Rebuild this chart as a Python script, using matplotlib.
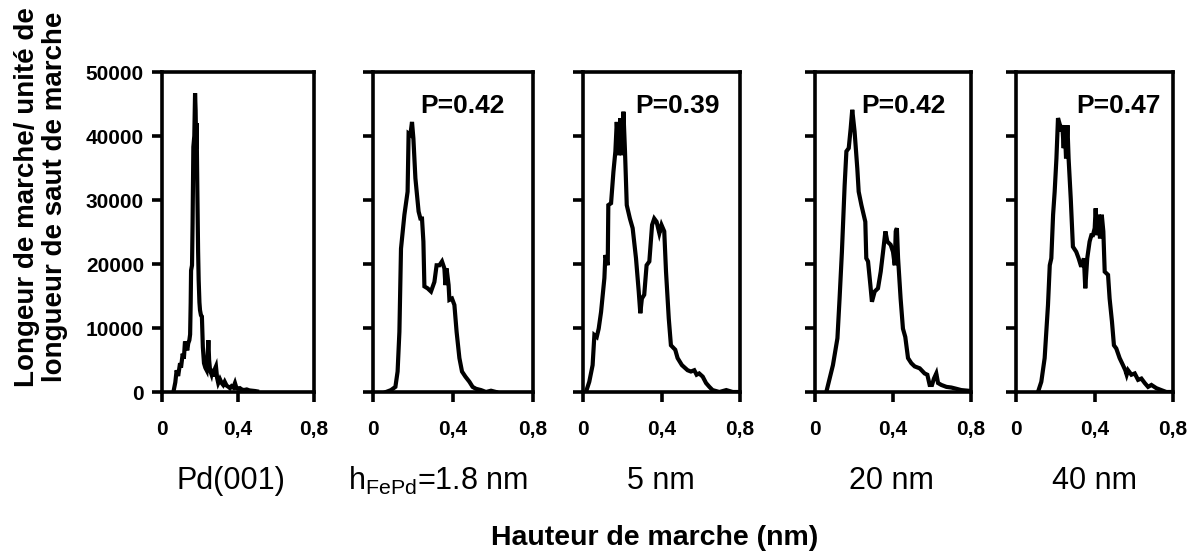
import matplotlib
matplotlib.use("Agg")
import matplotlib.pyplot as plt

plt.rcParams['font.family'] = ['Liberation Sans', 'DejaVu Sans']
plt.rcParams['mathtext.fontset'] = 'custom'
plt.rcParams['mathtext.rm'] = 'Liberation Sans'
plt.rcParams['mathtext.it'] = 'Liberation Sans:italic'

# step height histograms (nm vs length per unit step height)
pd_x = [0.06, 0.07, 0.077, 0.085, 0.095, 0.1, 0.109, 0.115, 0.121, 0.128, 0.133, 0.138, 0.144, 0.148, 0.151,
        0.153, 0.158, 0.161, 0.165, 0.17, 0.174, 0.177, 0.18, 0.182, 0.186, 0.19, 0.193, 0.197, 0.2, 0.205,
        0.21, 0.215, 0.221, 0.228, 0.235, 0.24, 0.244, 0.248, 0.253, 0.26, 0.265, 0.27, 0.277, 0.284, 0.29,
        0.296, 0.305, 0.314, 0.322, 0.33, 0.34, 0.35, 0.358, 0.366, 0.375, 0.384, 0.392, 0.4, 0.41, 0.42,
        0.43, 0.446, 0.46, 0.475, 0.49, 0.5]
pd_y = [0, 1500, 3400, 2500, 4500, 3800, 6000, 5200, 7900, 7000, 6500, 7600, 8100, 9000, 13900,
        19000, 19800, 26300, 38300, 40000, 46700, 44000, 38000, 42000, 31600, 22000, 17500, 14000, 12800, 12000,
        11800, 7000, 4500, 3800, 3400, 5500, 8100, 5000, 3400, 2800, 3600, 2400, 3500, 4000, 2200,
        1400, 2000, 1400, 1100, 1600, 1000, 800, 600, 900, 700, 1400, 600, 500, 600, 400,
        300, 400, 250, 200, 150, 100]

h18_x = [0.065, 0.09, 0.112, 0.123, 0.132, 0.14, 0.157, 0.173, 0.178, 0.187, 0.195, 0.202, 0.212, 0.228,
         0.237, 0.245, 0.252, 0.257, 0.273, 0.29, 0.307, 0.318, 0.332, 0.345, 0.357, 0.362, 0.368, 0.378,
         0.382, 0.395, 0.407, 0.418, 0.432, 0.445, 0.462, 0.482, 0.498, 0.515, 0.54, 0.565, 0.59, 0.615]
h18_y = [0, 300, 800, 3200, 9400, 22400, 27700, 31300, 40400, 40200, 42200, 39600, 33400, 28200,
         27100, 27100, 23500, 16500, 16200, 15700, 17200, 19800, 19800, 20400, 19300, 16700, 19300, 16700,
         14400, 14600, 13600, 9400, 5300, 3200, 2400, 1600, 800, 500, 300, 0, 200, 0]

h5_x = [0.015, 0.032, 0.049, 0.058, 0.07, 0.08, 0.092, 0.109, 0.114, 0.126, 0.129, 0.143, 0.155, 0.165,
        0.172, 0.182, 0.19, 0.197, 0.206, 0.214, 0.223, 0.239, 0.253, 0.27, 0.284, 0.292, 0.3, 0.312,
        0.324, 0.338, 0.352, 0.363, 0.375, 0.389, 0.4, 0.414, 0.423, 0.437, 0.448, 0.47, 0.482, 0.504,
        0.533, 0.55, 0.567, 0.579, 0.592, 0.61, 0.627, 0.644, 0.66, 0.695, 0.73, 0.763, 0.79]
h5_y = [0, 1600, 4200, 8900, 8600, 9900, 12500, 17800, 21400, 19800, 29200, 29500, 34400, 37600,
        42200, 37000, 42800, 37000, 43800, 37600, 29200, 27100, 25600, 20900, 15700, 12300, 14600, 15200,
        19800, 20400, 26100, 27100, 26600, 24800, 26100, 25100, 18800, 11500, 7300, 6600, 5300, 4200,
        3400, 3200, 3400, 2700, 2900, 2400, 1400, 800, 300, 0, 300, 0, 0]

h20_x = [0.058, 0.075, 0.092, 0.115, 0.126, 0.138, 0.152, 0.161, 0.173, 0.183, 0.191, 0.203, 0.217,
         0.224, 0.238, 0.258, 0.263, 0.272, 0.284, 0.292, 0.306, 0.323, 0.337, 0.349, 0.361, 0.371,
         0.388, 0.4, 0.409, 0.414, 0.42, 0.426, 0.439, 0.451, 0.463, 0.477, 0.494, 0.511, 0.537, 0.562,
         0.576, 0.588, 0.6, 0.61, 0.622, 0.631, 0.648, 0.674, 0.699, 0.725, 0.75, 0.785]
h20_y = [0, 2100, 4200, 8400, 14600, 21900, 32300, 37600, 38100, 41200, 44100, 40700, 34900,
         31300, 29200, 26600, 20900, 20400, 16700, 14100, 15700, 16200, 18800, 21900, 25100, 23500,
         23000, 21900, 19800, 25100, 25600, 20900, 14600, 9900, 8600, 5300, 4500, 4000, 3700, 2900,
         2700, 1100, 1100, 2100, 2900, 1400, 1100, 800, 700, 500, 300, 200]

h40_x = [0.112, 0.129, 0.146, 0.163, 0.172, 0.18, 0.189, 0.197, 0.206, 0.214, 0.224, 0.231, 0.236,
         0.243, 0.248, 0.255, 0.262, 0.268, 0.279, 0.29, 0.307, 0.319, 0.33, 0.338, 0.346, 0.353, 0.363,
         0.375, 0.384, 0.392, 0.401, 0.406, 0.413, 0.421, 0.428, 0.437, 0.445, 0.452, 0.469, 0.477,
         0.489, 0.499, 0.511, 0.528, 0.545, 0.557, 0.564, 0.571, 0.588, 0.605, 0.622, 0.639, 0.656,
         0.673, 0.69, 0.715, 0.74, 0.766, 0.79]
h40_y = [0, 1600, 5300, 13600, 19800, 20900, 27700, 31300, 36500, 42800, 41700, 40700, 41700,
         38100, 41700, 36500, 41700, 36500, 30200, 22700, 21900, 20900, 19800, 19800, 20900, 16200, 20900,
         23500, 24500, 24500, 25600, 28700, 24500, 27700, 24000, 27700, 25100, 18800, 18300, 14600,
         11000, 7300, 6800, 5300, 4200, 3400, 2700, 3400, 2700, 2900, 1900, 2100, 1400,
         800, 1100, 600, 300, 0, 0]

series_x = [pd_x, h18_x, h5_x, h20_x, h40_x]
series_y = [pd_y, h18_y, h5_y, h20_y, h40_y]
p_labels = [None, 'P=0.42', 'P=0.39', 'P=0.42', 'P=0.47']
p_xpos = [None, 0.445, 0.484, 0.456, 0.52]
sample_labels = ['Pd(001)', 'h$_{\\rm FePd}$=1.8 nm', '5 nm', '20 nm', '40 nm']
x_ticks = [0, 0.4, 0.8]
x_ticklabels = ['0', '0,4', '0,8']
y_ticks = [0, 10000, 20000, 30000, 40000, 50000]

W, H = 1198, 553
fig = plt.figure(figsize=(W / 100, H / 100), dpi=100)

# panel boxes in pixels
lefts = [162, 373, 583, 815, 1016]
widths = [152, 160, 157, 156, 157]
top, bottom = 72, 392
label_cx = [231, 438, 661, 891, 1094]

for i in range(5):
    ax = fig.add_axes([lefts[i] / W, (H - bottom) / H, widths[i] / W, (bottom - top) / H])
    ax.plot(series_x[i], series_y[i], color='black', lw=3.0, solid_joinstyle='miter')
    ax.set_xlim(0, 0.8)
    ax.set_ylim(0, 50000)
    ax.set_xticks(x_ticks)
    ax.set_xticklabels(x_ticklabels, fontsize=15, fontweight='bold')
    ax.set_yticks(y_ticks)
    if i == 0:
        ax.set_yticklabels([str(v) for v in y_ticks], fontsize=15, fontweight='bold')
    else:
        ax.set_yticklabels([])
    ax.tick_params(axis='both', direction='out', length=7, width=2.6, color='black')
    ax.tick_params(axis='x', pad=13)
    ax.tick_params(axis='y', pad=6)
    for s in ax.spines.values():
        s.set_linewidth(2.6)
        s.set_color('black')
    if p_labels[i]:
        ax.text(p_xpos[i], 44700, p_labels[i], ha='center', va='center',
                fontsize=19, fontweight='bold')
    fig.text(label_cx[i] / W, 1 - 481 / H, sample_labels[i], ha='center', va='center', fontsize=22)

fig.text(41 / W, 1 - 197 / H, 'Longeur de marche/ unité de\nlongueur de saut de marche',
         rotation=90, ha='center', va='center', fontsize=20, fontweight='bold', linespacing=1.1)
fig.text(655 / W, 1 - 538 / H, 'Hauteur de marche (nm)', ha='center', va='center',
         fontsize=20.5, fontweight='bold')

fig.savefig('out.png', dpi=100, facecolor='white')
